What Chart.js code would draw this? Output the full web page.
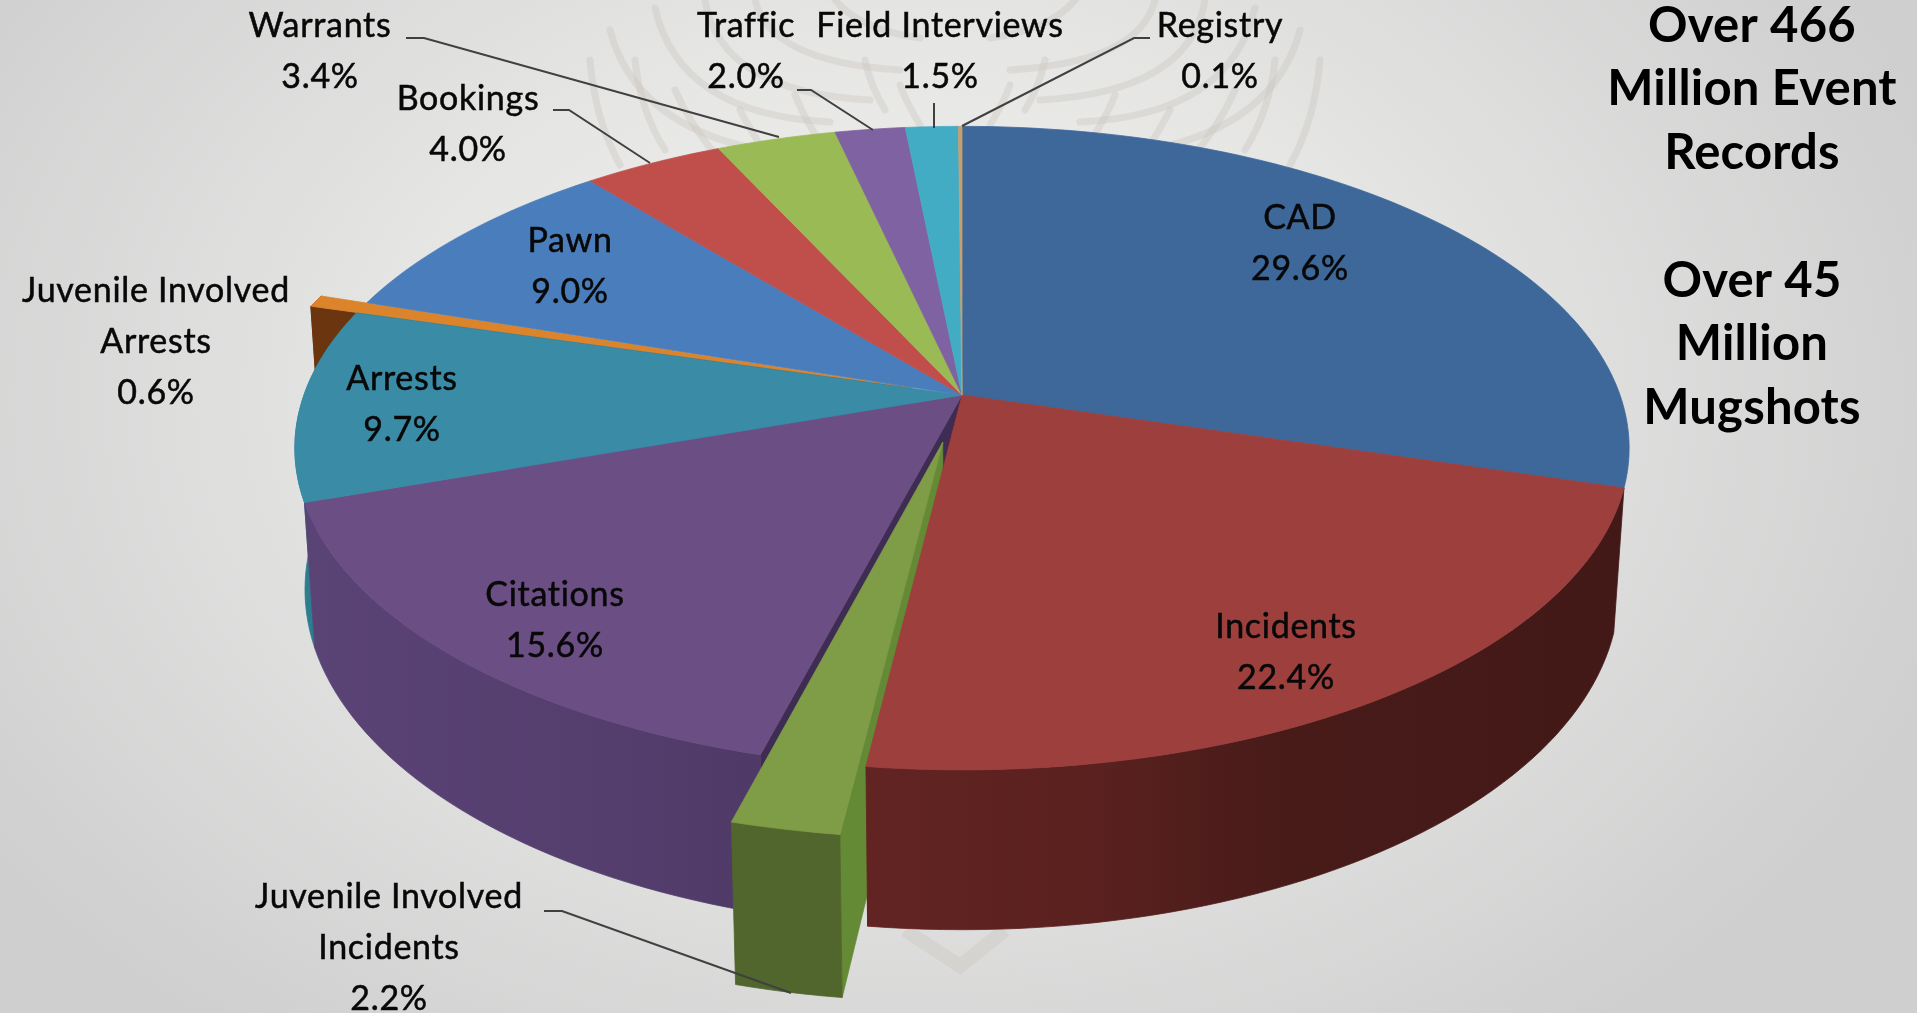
<!DOCTYPE html>
<html>
<head>
<meta charset="utf-8">
<title>Event records by type</title>
<script src="https://cdn.jsdelivr.net/npm/chart.js@4"></script>
<style>
    html, body { margin: 0; padding: 0; overflow: hidden; }
    body { width: 1917px; height: 1013px; background: radial-gradient(ellipse 1100px 800px at 900px 400px, #f3f2f0 0%, #e6e6e5 45%, #cfcfcf 100%); }
    canvas { display: block; }
</style>
</head>
<body>
<canvas id="pie" width="1917" height="1013"></canvas>
<script>
// Slices, clockwise from the top
const categories = ['CAD', 'Incidents', 'Juvenile Involved Incidents', 'Citations', 'Arrests', 'Juvenile Involved Arrests', 'Pawn', 'Bookings', 'Warrants', 'Traffic', 'Field Interviews', 'Registry'];
const percents = [29.6, 22.4, 2.2, 15.6, 9.7, 0.6, 9.0, 4.0, 3.4, 2.0, 1.5, 0.1];
const explosions = [0, 0, 15, 0, 0, 8, 0, 0, 0, 0, 0, 0];
const topColors = ['#3d6899', '#9c3f3d', '#7f9c47', '#6a4e84', '#3a8ca6', '#dc842c', '#4a7dbb', '#c04f4c', '#9aba56', '#7f62a1', '#42acc5', '#c8a06e'];
const wallColors = ['#2a4870', '#40181a', '#50662c', '#4f3a68', '#2b7d8f', '#6b3510', '#35598a', '#8a3836', '#6f863d', '#5a4673', '#2f7b8d', '#8f7350'];
const sideNotes = ['Over 466', 'Million Event', 'Records', '', 'Over 45', 'Million', 'Mugshots'];

// Where the label lines of each slice sit: [centre x, first line y]
const labelLayout = [
    { lines: ['CAD'], x: 1300, y: 218 },
    { lines: ['Incidents'], x: 1286, y: 627 },
    { lines: ['Juvenile Involved', 'Incidents'], x: 389, y: 897, leader: [[544, 911], [562, 911], [791, 993]] },
    { lines: ['Citations'], x: 555, y: 595 },
    { lines: ['Arrests'], x: 402, y: 379 },
    { lines: ['Juvenile Involved', 'Arrests'], x: 156, y: 291 },
    { lines: ['Pawn'], x: 570, y: 241 },
    { lines: ['Bookings'], x: 468, y: 99, leader: [[553, 110], [569, 110], [650, 163]] },
    { lines: ['Warrants'], x: 320, y: 26, leader: [[406, 38], [424, 38], [779, 137]] },
    { lines: ['Traffic'], x: 746, y: 26, leader: [[797, 90], [811, 90], [873, 130]] },
    { lines: ['Field Interviews'], x: 940, y: 26, leader: [[934, 103], [934, 128]] },
    { lines: ['Registry'], x: 1220, y: 26, leader: [[1150, 38], [1134, 38], [962, 126]] }
];

// Faint seal behind the chart, wing feathers mirrored around its axis: [dx, y] control points
const SEAL_AXIS = 955;
const sealFeathers = [
    [[200, 0], [185, 62], [55, 70]], [[250, 0], [235, 92], [85, 100]], [[300, 8], [275, 115], [125, 122]],
    [[345, 30], [320, 125], [195, 150]], [[120, 0], [95, 30], [35, 38]], [[365, 60], [360, 120], [335, 165]],
    [[320, 60], [315, 110], [290, 150]], [[280, 90], [265, 125], [235, 160]], [[160, 95], [150, 120], [130, 150]],
    [[90, 60], [85, 85], [70, 110]], [[55, 85], [50, 100], [35, 125]], [[215, 110], [205, 130], [185, 160]]
];
const sealChevron = [[905, 930], [960, 966], [1005, 930]];

// Perspective of the 3D disc
const view = { cx: 962, cy: 395, rx: 658, ry: 313, depth: 141.5, tilt: 0.165, shrink: 0.015 };
const LABEL_FONT = '34px Lato';
const LABEL_GAP = 51;
const INCIDENTS = 1, JUVENILE_INCIDENTS = 2, CITATIONS = 3, ARRESTS = 4, JUVENILE_ARRESTS = 5;

function project(x, y, h) {
    const w = 1 / (1 - view.tilt * y + view.shrink * h);
    return [view.cx + view.rx * x * w, view.cy + (view.ry * y + view.depth * h) * w];
}

function traceRim(ctx, arc, h, reverse, off) {
    const steps = Math.max(2, Math.ceil((arc.endAngle - arc.startAngle) * 40));
    for (let i = 0; i <= steps; i++) {
        const k = reverse ? steps - i : i;
        const a = arc.startAngle + (arc.endAngle - arc.startAngle) * k / steps;
        const p = project(off[0] + Math.cos(a), off[1] + Math.sin(a), h);
        ctx.lineTo(p[0], p[1]);
    }
}

function sliceOffset(arc) {
    const mid = (arc.startAngle + arc.endAngle) / 2;
    const amount = (arc.options.offset || 0) / 100;
    return [Math.cos(mid) * amount, Math.sin(mid) * amount];
}

function fillPath(ctx, color) {
    ctx.closePath();
    ctx.fillStyle = color;
    ctx.strokeStyle = color;
    ctx.lineWidth = 0.8;
    ctx.fill();
    ctx.stroke();
}

function drawRadialWall(ctx, arc, angle, color) {
    const off = sliceOffset(arc);
    const pts = [project(off[0], off[1], 0), project(off[0] + Math.cos(angle), off[1] + Math.sin(angle), 0),
        project(off[0] + Math.cos(angle), off[1] + Math.sin(angle), 1), project(off[0], off[1], 1)];
    ctx.beginPath();
    pts.forEach(p => ctx.lineTo(p[0], p[1]));
    fillPath(ctx, color);
}

function drawOuterWall(ctx, arc, color) {
    const off = sliceOffset(arc);
    ctx.beginPath();
    traceRim(ctx, arc, 0, false, off);
    traceRim(ctx, arc, 1, true, off);
    fillPath(ctx, color);
}

function drawTop(ctx, arc, color) {
    const off = sliceOffset(arc);
    const hub = project(off[0], off[1], 0);
    ctx.beginPath();
    ctx.moveTo(hub[0], hub[1]);
    traceRim(ctx, arc, 0, false, off);
    fillPath(ctx, color);
}

function wallPaint(ctx, i) {
    const g = ctx.createLinearGradient(view.cx - view.rx, 0, view.cx + view.rx, 0);
    if (i === INCIDENTS) {
        g.addColorStop(0.42, '#622422');
        g.addColorStop(0.6, '#5a211f');
        g.addColorStop(0.74, '#481b19');
        g.addColorStop(1, '#421917');
    } else if (i === CITATIONS) {
        g.addColorStop(0, '#5a4375');
        g.addColorStop(0.2, '#553f6f');
        g.addColorStop(0.45, '#4b3661');
    } else {
        g.addColorStop(0, wallColors[i]);
        g.addColorStop(1, wallColors[i]);
    }
    return g;
}

// Chart.js lays the arcs out; this paints them through the perspective above
const pie3d = {
    id: 'pie3d',
    beforeDatasetDraw(chart, args) {
        const ctx = chart.ctx;
        const arcs = chart.getDatasetMeta(args.index).data;
        const body = arcs.map((a, i) => i).filter(i => !explosions[i]);
        const tucked = arcs[JUVENILE_ARRESTS];
        const pulled = arcs[JUVENILE_INCIDENTS];
        ctx.save();
        // slice pulled out at the back goes first, the body hides most of it
        drawRadialWall(ctx, tucked, tucked.startAngle, wallColors[JUVENILE_ARRESTS]);
        drawOuterWall(ctx, tucked, wallColors[JUVENILE_ARRESTS]);
        drawTop(ctx, tucked, topColors[JUVENILE_ARRESTS]);
        // walls that face the gap left by the front slice
        drawRadialWall(ctx, arcs[CITATIONS], arcs[CITATIONS].startAngle, '#3e2c52');
        drawRadialWall(ctx, arcs[INCIDENTS], arcs[INCIDENTS].endAngle, '#40181a');
        drawRadialWall(ctx, pulled, pulled.startAngle, '#658a35');
        // only these rims face the viewer
        [ARRESTS, CITATIONS, INCIDENTS].forEach(i => drawOuterWall(ctx, arcs[i], wallPaint(ctx, i)));
        body.forEach(i => drawTop(ctx, arcs[i], topColors[i]));
        drawOuterWall(ctx, pulled, wallColors[JUVENILE_INCIDENTS]);
        drawTop(ctx, pulled, topColors[JUVENILE_INCIDENTS]);
        ctx.restore();
        return false;
    }
};

const sealMark = {
    id: 'sealMark',
    beforeDraw(chart) {
        const ctx = chart.ctx;
        ctx.save();
        ctx.strokeStyle = 'rgba(196,190,178,0.3)';
        ctx.lineCap = 'round';
        ctx.lineWidth = 7;
        [-1, 1].forEach(side => {
            sealFeathers.forEach(f => {
                ctx.beginPath();
                ctx.moveTo(SEAL_AXIS + side * f[0][0], f[0][1]);
                ctx.quadraticCurveTo(SEAL_AXIS + side * f[1][0], f[1][1], SEAL_AXIS + side * f[2][0], f[2][1]);
                ctx.stroke();
            });
        });
        ctx.strokeStyle = 'rgba(206,200,192,0.4)';
        ctx.lineWidth = 14;
        ctx.lineCap = 'butt';
        ctx.beginPath();
        sealChevron.forEach(p => ctx.lineTo(p[0], p[1]));
        ctx.stroke();
        ctx.restore();
    }
};

const sliceText = {
    id: 'sliceText',
    afterDatasetsDraw(chart) {
        const ctx = chart.ctx;
        ctx.save();
        ctx.lineWidth = 2;
        ctx.strokeStyle = '#404040';
        labelLayout.forEach(l => {
            if (!l.leader) return;
            ctx.beginPath();
            l.leader.forEach(p => ctx.lineTo(p[0], p[1]));
            ctx.stroke();
        });
        ctx.filter = 'blur(0.5px)';
        ctx.font = LABEL_FONT;
        ctx.letterSpacing = '0.7px';
        ctx.fillStyle = '#080808';
        ctx.strokeStyle = '#080808';
        ctx.lineWidth = 0.5;
        ctx.textAlign = 'center';
        ctx.textBaseline = 'middle';
        labelLayout.forEach((l, i) => {
            const rows = l.lines.concat(percents[i].toFixed(1) + '%');
            rows.forEach((t, r) => {
                ctx.fillText(t, l.x, l.y + r * LABEL_GAP);
                ctx.strokeText(t, l.x, l.y + r * LABEL_GAP);
            });
        });
        ctx.letterSpacing = '0.2px';
        ctx.font = 'bold 49px Lato';
        ctx.fillStyle = '#000';
        sideNotes.forEach((t, r) => ctx.fillText(t, 1752, 26 + r * 63.7));
        ctx.restore();
    }
};

new Chart(document.getElementById('pie').getContext('2d'), {
    type: 'pie',
    data: {
        labels: categories,
        datasets: [{ data: percents, backgroundColor: topColors, offset: explosions, borderWidth: 0 }]
    },
    options: {
        responsive: false,
        animation: false,
        events: [],
        plugins: { legend: { display: false }, tooltip: { enabled: false } }
    },
    plugins: [sealMark, pie3d, sliceText]
});
</script>
</body>
</html>
